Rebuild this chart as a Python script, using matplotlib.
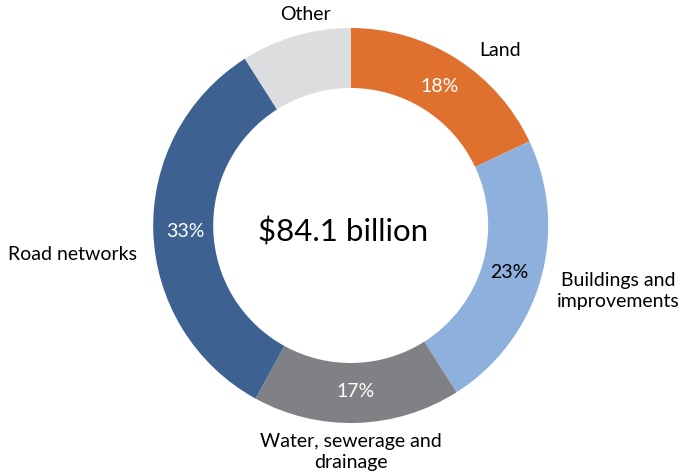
import matplotlib
matplotlib.use("Agg")
import matplotlib.pyplot as plt
import numpy as np

categories = ["Land", "Buildings and\nimprovements", "Water, sewerage and\ndrainage", "Road networks", "Other"]
values = [18, 23, 17, 33, 9]
pct_labels = ["18%", "23%", "17%", "33%", ""]
center_text = "$84.1 billion"

colors = ["#DF702D", "#8EB0DC", "#808184", "#3D6190", "#DCDDDE"]
pct_colors = ["white", "black", "white", "white", "white"]
# label positions in pixel coords (x, y from top)
label_pos = [(500, 50), (618, 291), (351, 452), (72, 254), (305, 14)]

W, H = 683, 477
fig = plt.figure(figsize=(W / 100, H / 100), dpi=100)
ax = fig.add_axes([0, 0, 1, 1])

cx, cy, R, ring = 350.7, H - 226.5, 197.5, 60
wedges, texts = ax.pie(values, colors=colors, startangle=90, counterclock=False,
                       center=(cx, cy), radius=R,
                       wedgeprops=dict(width=ring, linewidth=0), frame=True)
ax.set_xlim(0, W)
ax.set_ylim(0, H)
ax.set_aspect("equal")
ax.axis("off")

font = "Lato"
cum = np.cumsum([0] + values[:-1])
for i, (v, c0) in enumerate(zip(values, cum)):
    if not pct_labels[i]:
        continue
    ang = np.deg2rad(90 - 360 * (c0 + v / 2) / sum(values))
    r = R - ring / 2 - 2
    ax.text(cx + r * np.cos(ang), cy + r * np.sin(ang), pct_labels[i],
            ha="center", va="center", color=pct_colors[i], fontsize=14, family=font)

for lab, (x, y) in zip(categories, label_pos):
    ax.text(x, H - y, lab, ha="center", va="center", fontsize=14, family=font,
            color="black", linespacing=1.32)

ax.text(343, H - 232, center_text, ha="center", va="center", fontsize=22.5, family=font)

fig.savefig("out.png", dpi=100)
